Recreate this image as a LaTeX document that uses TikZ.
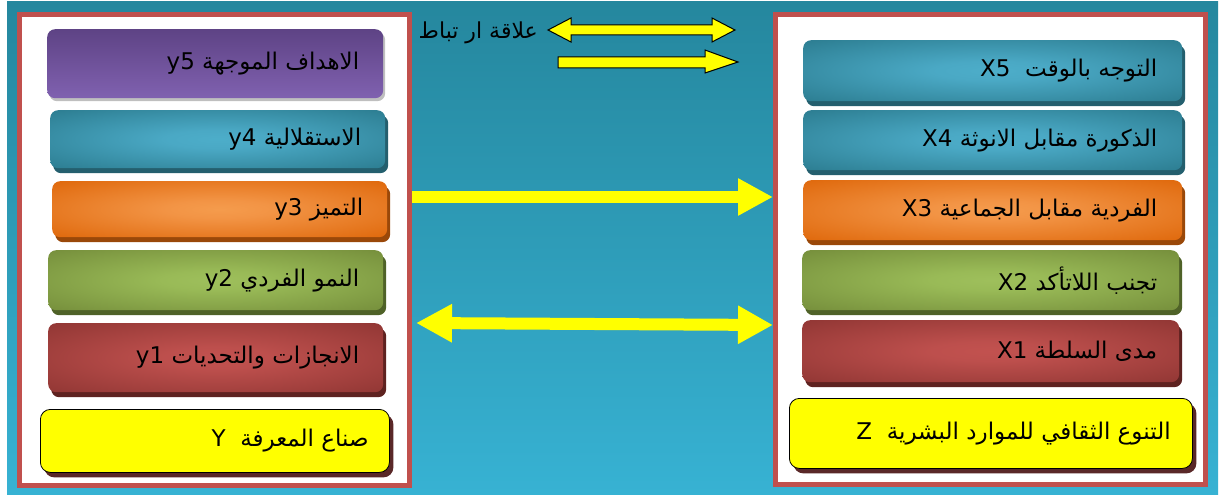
\documentclass[tikz,border=0pt]{standalone}
\usepackage{fontspec}
\usetikzlibrary{shadows,arrows.meta}
\TeXXeTstate=1
\newfontfamily\arabicfont[Script=Arabic]{DejaVu Sans}
\definecolor{bgtop}{HTML}{25879E}
\definecolor{bgbot}{HTML}{37B2D3}
\definecolor{panelred}{HTML}{C0504D}
\definecolor{tealsh}{HTML}{245F6E}
\definecolor{orgsh}{HTML}{9A4809}
\definecolor{grnsh}{HTML}{4F6228}
\definecolor{redsh}{HTML}{5E2220}
\definecolor{purtop}{HTML}{5E4385}
\definecolor{purbot}{HTML}{8061B0}
\definecolor{ylwsh}{HTML}{5A2828}
\definecolor{arrowyellow}{HTML}{FFFF00}
\pgfdeclareradialshading{tealshade}{\pgfpoint{0bp}{0bp}}{%
  rgb(0bp)=(0.30,0.68,0.79); rgb(8bp)=(0.29,0.66,0.77); rgb(34bp)=(0.18,0.50,0.58); rgb(100bp)=(0.17,0.48,0.56)}
\pgfdeclareradialshading{orgshade}{\pgfpoint{0bp}{0bp}}{%
  rgb(0bp)=(0.96,0.61,0.30); rgb(8bp)=(0.95,0.58,0.27); rgb(34bp)=(0.88,0.42,0.06); rgb(100bp)=(0.87,0.41,0.05)}
\pgfdeclareradialshading{grnshade}{\pgfpoint{0bp}{0bp}}{%
  rgb(0bp)=(0.62,0.75,0.36); rgb(8bp)=(0.60,0.73,0.34); rgb(34bp)=(0.47,0.57,0.24); rgb(100bp)=(0.46,0.56,0.23)}
\pgfdeclareradialshading{redshade}{\pgfpoint{0bp}{0bp}}{%
  rgb(0bp)=(0.76,0.32,0.31); rgb(8bp)=(0.74,0.31,0.30); rgb(34bp)=(0.58,0.22,0.21); rgb(100bp)=(0.56,0.21,0.20)}
\tikzset{
  panel/.style={draw=panelred, line width=5pt, fill=white, inner sep=0pt},
  box/.style={rounded corners=8pt, inner sep=0pt, anchor=north west},
  tealbox/.style={box, shading=tealshade,
    drop shadow={fill=tealsh, opacity=1, shadow xshift=3pt, shadow yshift=-5pt}},
  orgbox/.style={box, shading=orgshade,
    drop shadow={fill=orgsh, opacity=1, shadow xshift=3pt, shadow yshift=-5pt}},
  grnbox/.style={box, shading=grnshade,
    drop shadow={fill=grnsh, opacity=1, shadow xshift=3pt, shadow yshift=-5pt}},
  redbox/.style={box, shading=redshade,
    drop shadow={fill=redsh, opacity=1, shadow xshift=3pt, shadow yshift=-5pt}},
  purbox/.style={box, top color=purtop, bottom color=purbot,
    drop shadow={fill=black, opacity=0.25, shadow xshift=2pt, shadow yshift=-3pt}},
  ylwbox/.style={box, rounded corners=10pt, fill=arrowyellow, draw=black, line width=0.8pt,
    drop shadow={fill=ylwsh, opacity=1, shadow xshift=4pt, shadow yshift=-5pt}},
  txt/.style={inner sep=0pt, anchor=east, font=\arabicfont\fontsize{23}{26}\selectfont, text=black},
  legtxt/.style={txt, font=\arabicfont\fontsize{22}{25}\selectfont},
  bigarrow/.style={draw=arrowyellow, line width=12pt},
  legendarrow/.style={fill=arrowyellow, draw=black, line width=1pt, line join=miter},
}
\begin{document}
\begin{tikzpicture}[x=1pt, y=-1pt]
\useasboundingbox (0,0) rectangle (1227,497);
\fill[white] (0,0) rectangle (1227,497);
\shade[top color=bgtop, bottom color=bgbot] (7,2) rectangle (1218,494);
% panels
\node[panel, minimum width=390pt, minimum height=471pt] (L) at (214.5,250) {};
\node[panel, minimum width=430pt, minimum height=470pt] (R) at (990.5,249.5) {};
% left boxes
\node[purbox, minimum width=336pt, minimum height=69pt] (y5) at (47,29) {};
\node[txt] (y5t) at ([xshift=-24pt]y5.east) {\beginR الاهداف الموجهة \beginL y5\endL\endR};
\node[tealbox, minimum width=335pt, minimum height=58pt] (y4) at (50,110) {};
\node[txt] (y4t) at ([xshift=-24pt]y4.east) {\beginR الاستقلالية \beginL y4\endL\endR};
\node[orgbox, minimum width=335pt, minimum height=56pt] (y3) at (52,181) {};
\node[txt] (y3t) at ([xshift=-24pt]y3.east) {\beginR التميز \beginL y3\endL\endR};
\node[grnbox, minimum width=335pt, minimum height=60pt] (y2) at (48,250) {};
\node[txt] (y2t) at ([xshift=-24pt]y2.east) {\beginR النمو الفردي \beginL y2\endL\endR};
\node[redbox, minimum width=335pt, minimum height=69pt] (y1) at (48,323) {};
\node[txt] (y1t) at ([xshift=-24pt]y1.east) {\beginR الانجازات والتحديات \beginL y1\endL\endR};
\node[ylwbox, minimum width=349pt, minimum height=63pt] (Y) at (40,409) {};
\node[txt] (Yt) at ([xshift=-21pt]Y.east) {\beginR صناع المعرفة \ \beginL Y\endL\endR};
% right boxes
\node[tealbox, minimum width=379pt, minimum height=61pt] (x5) at (803,40) {};
\node[txt] (x5t) at ([xshift=-25pt]x5.east) {\beginR التوجه بالوقت \ \beginL X5\endL\endR};
\node[tealbox, minimum width=379pt, minimum height=60pt] (x4) at (803,110) {};
\node[txt] (x4t) at ([xshift=-25pt]x4.east) {\beginR الذكورة مقابل الانوثة \beginL X4\endL\endR};
\node[orgbox, minimum width=379pt, minimum height=60pt] (x3) at (803,180) {};
\node[txt] (x3t) at ([xshift=-25pt]x3.east) {\beginR الفردية مقابل الجماعية \beginL X3\endL\endR};
\node[grnbox, minimum width=377pt, minimum height=60pt] (x2) at (802,250) {};
\node[txt] (x2t) at ([xshift=-22pt]x2.east) {\beginR تجنب اللاتأكد \beginL X2\endL\endR};
\node[redbox, minimum width=377pt, minimum height=62pt] (x1) at (802,320) {};
\node[txt] (x1t) at ([xshift=-22pt]x1.east) {\beginR مدى السلطة \beginL X1\endL\endR};
\node[ylwbox, minimum width=403pt, minimum height=70pt] (Z) at (789,398) {};
\node[txt] (Zt) at ([xshift=-22pt]Z.east) {\beginR التنوع الثقافي للموارد البشرية \ \beginL Z\endL\endR};
% legend
\draw[legendarrow] (548,30) -- (571,18) -- (571,25) -- (712,25) -- (712,18) -- (735,30)
  -- (712,42) -- (712,35) -- (571,35) -- (571,42) -- cycle;
\draw[legendarrow] (558,57) -- (705,57) -- (705,50) -- (738,62) -- (705,73) -- (705,68)
  -- (558,68) -- cycle;
\node[legtxt] (leg) at (538,33) {\beginR علاقة ار تباط\endR};
% connectors
\coordinate (r1) at (0,197);
\coordinate (r2) at (0,323);
\coordinate (r3) at (0,325);
\draw[bigarrow, -{Triangle[length=35pt, width=35pt, fill=arrowyellow]}] (L.east |- r1) -- (R.west |- r1);
\draw[bigarrow, {Triangle[length=36pt, width=36pt, fill=arrowyellow]}-{Triangle[length=35pt, width=36pt, fill=arrowyellow]}]
  ([xshift=4pt]L.east |- r2) -- (R.west |- r3);
\end{tikzpicture}
\end{document}
